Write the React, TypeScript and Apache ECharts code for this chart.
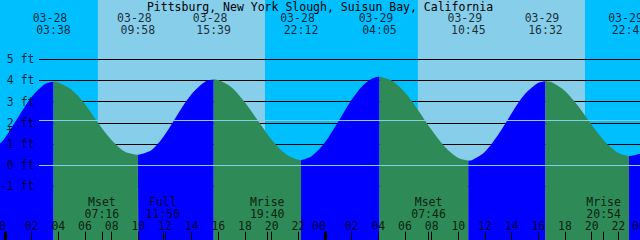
import { useEffect, useRef } from 'react';
import * as echarts from 'echarts';

const chartTitle = 'Pittsburg, New York Slough, Suisun Bay, California';

// High / low tide events
const tideDates = ['03-28', '03-28', '03-28', '03-28', '03-29', '03-29', '03-29', '03-29'];
const tideTimes = ['03:38', '09:58', '15:39', '22:12', '04:05', '10:45', '16:32', '22:48'];
const tideLevels = [3.94, 0.49, 4.05, 0.25, 4.18, 0.22, 3.97, 0.44];

// Water level (ft) read hour by hour, hours counted from 03-28 00:00
const sampleHours = [
  -0.375, 0, 1, 2, 3, 4, 5, 6, 7, 8, 9, 10, 11, 12, 13, 14, 15, 16, 17, 18, 19, 20, 21, 22, 23,
  24, 25, 26, 27, 28, 29, 30, 31, 32, 33, 34, 35, 36, 37, 38, 39, 40, 41, 42, 43, 44, 45, 46, 47, 47.625,
];
const sampleLevels = [
  1.02, 1.29, 2.28, 3.22, 3.83, 3.91, 3.56, 2.88, 1.98, 1.18, 0.64, 0.49, 0.72, 1.45, 2.46, 3.36, 3.94, 4.02, 3.67, 2.96, 2.08, 1.21, 0.56, 0.26, 0.43,
  1.09, 2.07, 3.09, 3.86, 4.18, 4.0, 3.43, 2.59, 1.66, 0.86, 0.34, 0.24, 0.64, 1.45, 2.46, 3.36, 3.89, 3.92, 3.51, 2.78, 1.91, 1.11, 0.58, 0.45, 0.55,
];

// Moon events
const moonNames = ['Mset', 'Full', 'Mrise', 'Mset', 'Mrise'];
const moonDates = ['03-28', '03-28', '03-28', '03-29', '03-29'];
const moonTimes = ['07:16', '11:50', '19:40', '07:46', '20:54'];

// Daylight
const sunDates = ['03-28', '03-29'];
const sunriseTimes = ['06:58', '06:58'];
const sunsetTimes = ['19:30', '19:30'];

// Hour axis
const hourTickHours = [0, 2, 4, 6, 8, 10, 12, 14, 16, 18, 20, 22, 24, 26, 28, 30, 32, 34, 36, 38, 40, 42, 44, 46, 48];
const hourTickLabels = ['00', '02', '04', '06', '08', '10', '12', '14', '16', '18', '20', '22', '00', '02', '04', '06', '08', '10', '12', '14', '16', '18', '20', '22', '00'];
const midnightHours = [0, 24];

// Depth axis
const depthLevels = [5, 4, 3, 2, 1, 0, -1];
const meanLevel = 2.12;
const datumLevel = 0;

const FONT = 'DejaVu Sans Mono';
const FS = 11.5;
const X_MIN = -0.375;
const X_MAX = 47.625;
const Y_MAX = 7.797;
const Y_MIN = -3.524;
const LINE_START = 2.55;
const TICK_TOP = -3.132;

const FLOOD = '#0000FF';
const EBB = '#2E8B57';
const DAY = '#87CEEB';
const NIGHT = '#00BFFF';
const LIGHT_LINE = '#87CEEB';

const dayIndex = (d: string) => Number(d.split('-')[1]) - 28;
const toHour = (d: string, t: string) => {
  const [hh, mm] = t.split(':').map(Number);
  return dayIndex(d) * 24 + hh + mm / 60;
};

const textStyle = { fontFamily: FONT, fontSize: FS, color: '#000' };

function buildOption() {
  const extremes = tideTimes.map((t, i) => [toHour(tideDates[i], t), tideLevels[i]]);
  const pts = sampleHours
    .map((h, i) => [h, sampleLevels[i]])
    .concat(extremes)
    .sort((a, b) => a[0] - b[0]);
  const bounds = [X_MIN, ...extremes.map((e) => e[0]), X_MAX];
  const fillSeries: any[] = [];
  for (let k = 0; k < bounds.length - 1; k++) {
    const seg = pts.filter((p) => p[0] >= bounds[k] - 1e-6 && p[0] <= bounds[k + 1] + 1e-6);
    if (seg.length < 2) continue;
    const rising = seg[seg.length - 1][1] > seg[0][1];
    fillSeries.push({
      type: 'line',
      data: seg,
      symbol: 'none',
      smooth: 0.3,
      silent: true,
      z: 3,
      lineStyle: { width: 0 },
      areaStyle: { color: rising ? FLOOD : EBB, opacity: 1, origin: 'start' },
    });
  }

  const hLine = (v: number) => [{ coord: [LINE_START, v] }, { coord: [X_MAX, v] }];
  const tick = (h: number) => [{ coord: [h, TICK_TOP] }, { coord: [h, Y_MIN] }];

  const lineMarker = (z: number, color: string, width: number, data: any[]) => ({
    type: 'line',
    data: [],
    silent: true,
    z,
    markLine: {
      z,
      silent: true,
      symbol: ['none', 'none'],
      label: { show: false },
      lineStyle: { color, width, type: 'solid' },
      emphasis: { disabled: true },
      data,
    },
  });

  const textSeries = (data: any[], label: any) => ({
    type: 'scatter',
    data,
    symbolSize: 1,
    itemStyle: { color: 'rgba(0,0,0,0)' },
    silent: true,
    clip: false,
    z: 6,
    label: { show: true, formatter: '{b}', ...textStyle, ...label },
  });

  const tideHours = extremes.map((e) => e[0]);
  const moonHours = moonTimes.map((t, i) => toHour(moonDates[i], t));

  return {
    animation: false,
    backgroundColor: NIGHT,
    title: {
      text: chartTitle,
      left: 'center',
      top: 1,
      padding: 0,
      textStyle: { ...textStyle, fontWeight: 'normal' },
    },
    grid: { left: 0, right: 0, top: 0, bottom: 0, containLabel: false },
    xAxis: { type: 'value', min: X_MIN, max: X_MAX, show: false },
    yAxis: { type: 'value', min: Y_MIN, max: Y_MAX, show: false },
    series: [
      {
        type: 'line',
        data: [],
        silent: true,
        z: 1,
        markArea: {
          z: 1,
          silent: true,
          itemStyle: { color: DAY },
          data: sunDates.map((d, i) => [{ xAxis: toHour(d, sunriseTimes[i]) }, { xAxis: toHour(d, sunsetTimes[i]) }]),
        },
      },
      lineMarker(2, '#000', 1, depthLevels.map(hLine)),
      ...fillSeries,
      lineMarker(4, LIGHT_LINE, 1, [datumLevel, meanLevel].map(hLine)),
      lineMarker(5, '#000', 1, hourTickHours.concat(moonHours).map(tick)),
      lineMarker(5, '#000', 3, midnightHours.map(tick)),
      textSeries(
        depthLevels.map((v) => ({ value: [2.25, v], name: `${v} ft` })),
        { position: 'left', distance: 0 }
      ),
      textSeries([{ value: [0.35, 1.665], name: '+' }], { position: 'inside' }),
      textSeries(
        tideHours.map((h, i) => ({ value: [h, Y_MAX], name: tideDates[i] })),
        { position: 'inside', offset: [-3.5, 17.5] }
      ),
      textSeries(
        tideHours.map((h, i) => ({ value: [h, Y_MAX], name: tideTimes[i] })),
        { position: 'inside', offset: [0, 29.5] }
      ),
      textSeries(
        moonHours.map((h, i) => ({ value: [h, Y_MIN], name: moonNames[i] })),
        { position: 'inside', offset: [0, -38.5] }
      ),
      textSeries(
        moonHours.map((h, i) => ({ value: [h, Y_MIN], name: moonTimes[i] })),
        { position: 'inside', offset: [0, -26.5] }
      ),
      textSeries(
        hourTickHours.map((h, i) => ({
          value: [h, Y_MIN],
          name: hourTickLabels[i],
          label: { offset: [hourTickLabels[i] === '00' ? -6 : 0, -14.5] },
        })),
        { position: 'inside', offset: [0, -14.5] }
      ),
    ],
  };
}

export default function App() {
  const ref = useRef<HTMLDivElement>(null);
  useEffect(() => {
    if (!ref.current) return;
    const chart = echarts.init(ref.current, undefined, { renderer: 'svg' });
    chart.setOption(buildOption() as any);
    return () => chart.dispose();
  }, []);
  return (
    <div
      ref={ref}
      style={{ position: 'fixed', left: 0, top: 0, width: 640, height: 240 }}
    />
  );
}
